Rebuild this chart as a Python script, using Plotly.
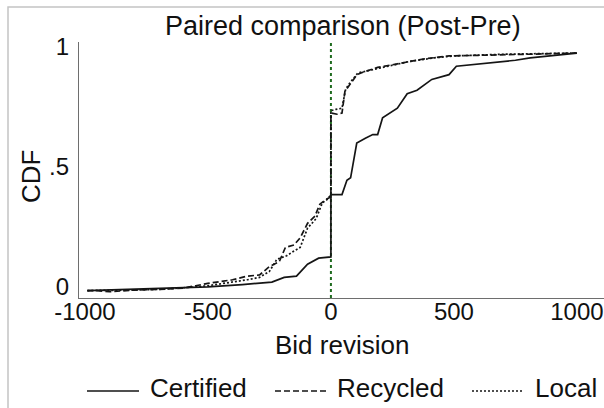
import plotly.graph_objects as go

# Bid revision (Post - Pre) and empirical CDF for each group
cert_x = [-990, -700, -500, -360, -290, -240, -190, -140, -95, -50, 0, 0, 45, 65, 80,
          105, 140, 170, 190, 210, 270, 310, 350, 410, 480, 510, 750, 810, 1000]
cert_y = [0.01, 0.02, 0.025, 0.035, 0.04, 0.045, 0.065, 0.07, 0.12, 0.145, 0.15, 0.41,
          0.41, 0.47, 0.48, 0.625, 0.645, 0.66, 0.66, 0.73, 0.77, 0.83, 0.845, 0.89,
          0.91, 0.945, 0.97, 0.98, 1.0]

recy_x = [-990, -950, -900, -850, -800, -700, -600, -550, -500, -400, -340, -290, -250,
          -210, -185, -150, -125, -95, -65, -45, -20, 0, 0, 25, 45, 57, 77, 106, 130,
          190, 270, 375, 480, 600, 800, 1000]
recy_y = [0.01, 0.01, 0.005, 0.01, 0.012, 0.015, 0.02, 0.03, 0.04, 0.055, 0.07, 0.075,
          0.11, 0.13, 0.19, 0.2, 0.23, 0.29, 0.32, 0.37, 0.39, 0.40, 0.75, 0.745, 0.75,
          0.84, 0.87, 0.91, 0.92, 0.94, 0.955, 0.975, 0.988, 0.99, 0.995, 1.0]

local_x = [-990, -900, -800, -700, -600, -550, -500, -400, -340, -290, -250, -220, -180,
           -150, -125, -95, -60, -35, -15, 0, 0, 20, 45, 60, 80, 110, 145, 190, 240, 320,
           420, 500, 700, 1000]
local_y = [0.01, 0.01, 0.012, 0.015, 0.02, 0.025, 0.03, 0.045, 0.055, 0.065, 0.09, 0.14,
           0.155, 0.175, 0.19, 0.27, 0.31, 0.375, 0.39, 0.41, 0.76, 0.765, 0.77, 0.85,
           0.88, 0.917, 0.925, 0.935, 0.945, 0.965, 0.98, 0.988, 0.995, 1.0]

x_ticks = [-1000, -500, 0, 500, 1000]
x_tick_text = ["-1000", "-500", "0", "500", "1000"]
y_ticks = [0, 0.5, 1]
y_tick_text = ["0", ".5", "1"]

series_names = ["Certified", "Recycled", "Local"]

W, H = 604, 408
ML, MR, MT, MB = 79, 0, 42, 110
PW, PH = W - ML - MR, H - MT - MB
FONT = "Liberation Sans, Arial, Helvetica, sans-serif"


def px(x):
    return (x - ML) / PW


def py(y):
    return (H - MB - y) / PH


fig = go.Figure()
styles = [("solid", 1.7), ("6px,3px", 1.7), ("2px,2px", 1.7)]
for name, xs, ys, (dash, w) in zip(series_names, [cert_x, recy_x, local_x],
                                   [cert_y, recy_y, local_y], styles):
    fig.add_trace(go.Scatter(x=xs, y=ys, mode="lines", name=name,
                             line=dict(color="#151515", width=w, dash=dash),
                             showlegend=False))

shapes = [
    # reference line at zero revision
    dict(type="line", xref="x", yref="paper", x0=0, x1=0, y0=0, y1=1,
         line=dict(color="#1f6b1f", width=2, dash="3px,3px"), layer="below"),
    # outer frame
    dict(type="rect", xref="paper", yref="paper", x0=px(8), x1=px(640),
         y0=py(440), y1=py(7), line=dict(color="#c4c4c4", width=1.5), layer="below"),
]

# legend keys
legend_keys = [(87, 139, "solid", 148), (275, 327, "6px,3px", 335), (472, 523, "2px,2px", 533)]
annotations = []
for (x0, x1, dash, tx), name in zip(legend_keys, series_names):
    shapes.append(dict(type="line", xref="paper", yref="paper", x0=px(x0), x1=px(x1),
                       y0=py(391), y1=py(391), line=dict(color="#151515", width=1.6, dash=dash)))
    annotations.append(dict(text=name, xref="paper", yref="paper", x=px(tx), y=py(388),
                            xanchor="left", yanchor="middle", showarrow=False,
                            font=dict(size=26, color="#111")))

annotations += [
    dict(text="Paired comparison (Post-Pre)", xref="paper", yref="paper", x=px(343),
         y=py(26), xanchor="center", yanchor="middle", showarrow=False,
         font=dict(size=27, color="#111")),
    dict(text="Bid revision", xref="paper", yref="paper", x=px(342), y=py(345),
         xanchor="center", yanchor="middle", showarrow=False,
         font=dict(size=26, color="#111")),
    dict(text="CDF", xref="paper", yref="paper", x=px(31), y=py(177), textangle=-90,
         xanchor="center", yanchor="middle", showarrow=False,
         font=dict(size=26, color="#111")),
]

fig.update_layout(
    width=W, height=H, autosize=False,
    margin=dict(l=ML, r=MR, t=MT, b=MB),
    paper_bgcolor="white", plot_bgcolor="white",
    font=dict(family=FONT, size=26, color="#111"),
    shapes=shapes, annotations=annotations,
    xaxis=dict(range=[-1024, 1110], tickvals=x_ticks, ticktext=x_tick_text,
               showgrid=False, zeroline=False, showline=True, linecolor="#6e6e6e",
               linewidth=1.2, ticks="", ticklabelstandoff=-8, ticklabeloverflow="allow",
               tickfont=dict(size=24, family=FONT, color="#111")),
    yaxis=dict(range=[-0.021, 1.046], tickvals=y_ticks, ticktext=y_tick_text,
               showgrid=False, zeroline=False, showline=True, linecolor="#6e6e6e",
               linewidth=1.2, ticks="", ticklabelstandoff=4, ticklabelshift=-6,
               tickfont=dict(size=24, family=FONT, color="#111")),
)

fig.write_html("out.html")
